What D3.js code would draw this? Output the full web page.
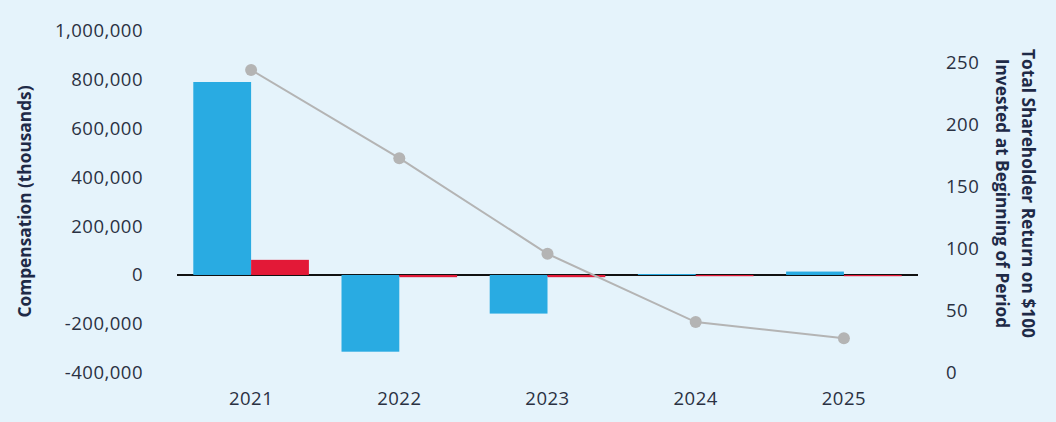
<!DOCTYPE html>
<html>
<head>
<meta charset="utf-8">
<script src="https://cdn.jsdelivr.net/npm/d3@7"></script>
<style>
html,body{margin:0;padding:0;background:#E5F3FB;}
svg{display:block;}
</style>
</head>
<body>
<svg id="chart" width="1056" height="422"></svg>
<script>
const years = ["2021","2022","2023","2024","2025"];
const compActuallyPaid = [790000, -314000, -158000, 4000, 14000];
const compOther = [62000, -9000, -9000, -5000, -5000];
const tsrValues = [244, 173, 96, 41, 28];
const leftTicks = [-400000, -200000, 0, 200000, 400000, 600000, 800000, 1000000];
const rightTicks = [0, 50, 100, 150, 200, 250];
const leftTitle = "Compensation (thousands)";
const rightTitle = ["Total Shareholder Return on $100", "Invested at Beginning of Period"];

const svg = d3.select("#chart");
const W = 1056, H = 422;
svg.append("rect").attr("width", W).attr("height", H).attr("fill", "#E5F3FB");

const textColor = "#1E2A47";
const font = "'Open Sans', 'DejaVu Sans', sans-serif";
const blue = "#29ABE2", red = "#E31937", grey = "#B4B4B4";

const x0 = d3.scaleBand().domain(years).range([177, 918]).paddingInner(0.22).paddingOuter(0.11);
const x1 = d3.scaleBand().domain(["a","b"]).range([0, x0.bandwidth()]);
const y = d3.scaleLinear().domain([-400000, 1000000]).range([372.7, 30.7]);
const yR = d3.scaleLinear().domain([0, 250]).range([373, 62.5]);

const loc = d3.formatLocale({decimal: ".", thousands: ",", grouping: [3], currency: ["$", ""], minus: "-"});
const fmt = loc.format(",");

function styleTicks(g) {
  g.selectAll("text").attr("fill", "#2A3142")
    .style("font-family", font).style("font-size", "18.5px")
    .style("font-weight", "400").style("letter-spacing", "0.5px");
}

// left axis
const gL = svg.append("g").attr("transform", "translate(150,0)")
  .call(d3.axisLeft(y).tickValues(leftTicks).tickFormat(fmt).tickSize(0).tickPadding(7));
gL.select(".domain").remove();
styleTicks(gL);

// right axis
const gR = svg.append("g").attr("transform", "translate(918,0)")
  .call(d3.axisRight(yR).tickValues(rightTicks).tickSize(0).tickPadding(28));
gR.select(".domain").remove();
styleTicks(gR);

// bottom axis
const gB = svg.append("g").attr("transform", "translate(0,375)")
  .call(d3.axisBottom(x0).tickSize(0).tickPadding(17));
gB.select(".domain").remove();
styleTicks(gB);

// zero line
svg.append("line")
  .attr("x1", x0.range()[0]).attr("x2", x0.range()[1])
  .attr("y1", y(0)).attr("y2", y(0))
  .attr("stroke", "#111").attr("stroke-width", 2);

// bars
const data = years.map((yr, i) => ({yr, a: compActuallyPaid[i], b: compOther[i]}));
const groups = svg.append("g").selectAll("g").data(data).join("g")
  .attr("transform", d => `translate(${x0(d.yr)},0)`);
groups.append("rect")
  .attr("x", x1("a")).attr("width", x1.bandwidth())
  .attr("y", d => y(Math.max(0, d.a)))
  .attr("height", d => Math.abs(y(d.a) - y(0)))
  .attr("fill", blue);
groups.append("rect")
  .attr("x", x1("b")).attr("width", x1.bandwidth())
  .attr("y", d => y(Math.max(0, d.b)))
  .attr("height", d => Math.abs(y(d.b) - y(0)))
  .attr("fill", red);

// TSR line
const cx = d => x0(d) + x0.bandwidth() / 2;
const pts = years.map((yr, i) => [cx(yr), yR(tsrValues[i])]);
svg.append("path")
  .attr("d", d3.line()(pts))
  .attr("fill", "none").attr("stroke", grey).attr("stroke-width", 2);
svg.append("g").selectAll("circle").data(pts).join("circle")
  .attr("cx", d => d[0]).attr("cy", d => d[1]).attr("r", 6)
  .attr("fill", grey);

// axis titles
svg.append("text")
  .attr("transform", "translate(31,201.5) rotate(-90)")
  .attr("text-anchor", "middle")
  .attr("fill", textColor).style("font-family", font).style("font-size", "17.3px")
  .style("font-weight", "bold")
  .text(leftTitle);

const rt = svg.append("text")
  .attr("transform", "translate(1028,193.5) rotate(90)")
  .attr("text-anchor", "middle")
  .attr("fill", textColor).style("font-family", font).style("font-size", "17.3px")
  .style("font-weight", "bold");
rt.selectAll("tspan").data(rightTitle).join("tspan")
  .attr("x", 0).attr("dy", (d, i) => i === 0 ? "0.35em" : "1.5em")
  .text(d => d);
</script>
</body>
</html>
